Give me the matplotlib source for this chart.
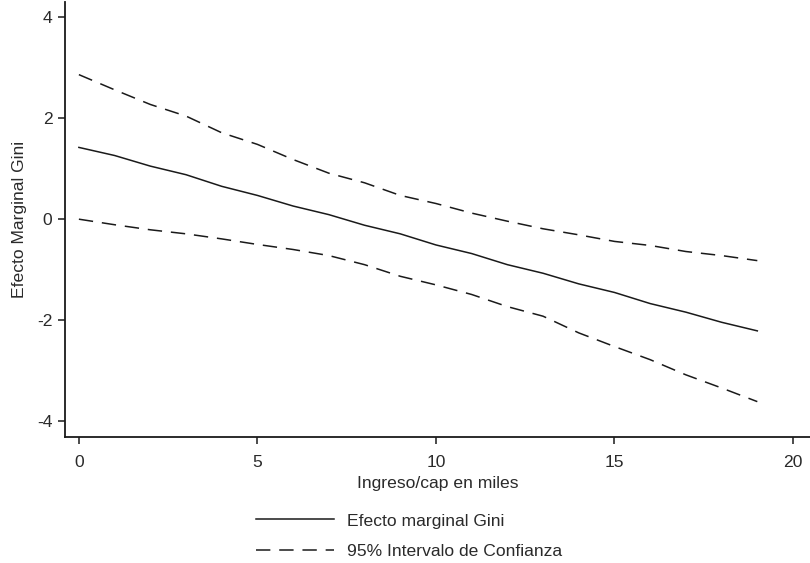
import matplotlib.pyplot as plt
import numpy as np

plt.rcParams['font.family'] = ['Liberation Sans', 'DejaVu Sans']
plt.rcParams['axes.unicode_minus'] = False

# Datos
ingreso = np.arange(0, 20)
efecto = [1.41, 1.25, 1.04, 0.87, 0.64, 0.46, 0.25, 0.08, -0.13, -0.30,
          -0.52, -0.69, -0.91, -1.08, -1.29, -1.46, -1.68, -1.85, -2.05, -2.22]
ic_sup = [2.85, 2.55, 2.26, 2.03, 1.70, 1.47, 1.17, 0.90, 0.71, 0.46,
          0.30, 0.11, -0.05, -0.20, -0.32, -0.45, -0.53, -0.65, -0.73, -0.83]
ic_inf = [-0.01, -0.12, -0.22, -0.30, -0.40, -0.51, -0.61, -0.73, -0.91, -1.14,
          -1.31, -1.50, -1.74, -1.93, -2.26, -2.53, -2.79, -3.09, -3.35, -3.62]

xticks = [0, 5, 10, 15, 20]
yticks = [-4, -2, 0, 2, 4]

fig = plt.figure(figsize=(8.1, 5.63), dpi=100)
ax = fig.add_axes([0.0802, 0.2238, 0.92, 0.772])

ink = '#1a1a1a'
txt = '#2a2a2a'
dash = (9.4, 5.8)
fs = 12.6

l1, = ax.plot(ingreso, efecto, color=ink, lw=1.1, label='Efecto marginal Gini')
l2, = ax.plot(ingreso, ic_sup, color=ink, lw=1.1, dashes=dash,
              label='95% Intervalo de Confianza')
ax.plot(ingreso, ic_inf, color=ink, lw=1.1, dashes=dash)

ax.set_xlim(-0.39, 20.48)
ax.set_ylim(-4.32, 4.28)
ax.set_xticks(xticks)
ax.set_yticks(yticks)

for s in ['top', 'right']:
    ax.spines[s].set_visible(False)
for s in ['left', 'bottom']:
    ax.spines[s].set_color(ink)
    ax.spines[s].set_linewidth(1.3)

ax.tick_params(direction='out', length=5, width=1.1, color=ink,
               labelsize=fs, labelcolor=txt)
ax.tick_params(axis='x', pad=8)
ax.tick_params(axis='y', pad=4)
ax.set_xlabel('Ingreso/cap en miles', fontsize=fs, color=txt, labelpad=4)
ax.set_ylabel('Efecto Marginal Gini', fontsize=fs, color=txt, labelpad=7)

fig.legend(handles=[l1, l2], loc='center', bbox_to_anchor=(0.505, 0.048),
           frameon=False, fontsize=fs, handlelength=4.5, handletextpad=0.75,
           labelspacing=0.85, labelcolor=txt)

fig.savefig('out.png', dpi=100, facecolor='white')
